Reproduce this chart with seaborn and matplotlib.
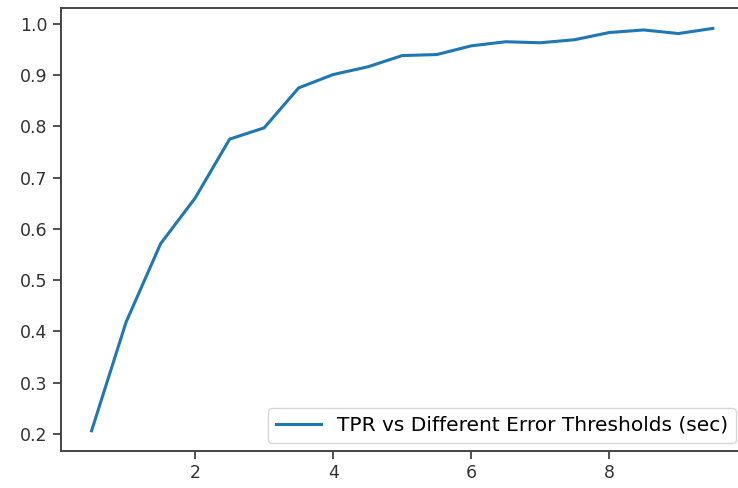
import matplotlib
matplotlib.use("Agg")
import matplotlib.pyplot as plt
import seaborn as sns
import pandas as pd

thresholds = [0.5, 1.0, 1.5, 2.0, 2.5, 3.0, 3.5, 4.0, 4.5, 5.0, 5.5, 6.0, 6.5, 7.0, 7.5, 8.0, 8.5, 9.0, 9.5]
tpr = [0.206, 0.418, 0.571, 0.660, 0.775, 0.797, 0.875, 0.901, 0.916, 0.938, 0.940, 0.957, 0.965, 0.963, 0.969, 0.983, 0.988, 0.981, 0.991]
label = "TPR vs Different Error Thresholds (sec)"

df = pd.DataFrame({"x": thresholds, "y": tpr})

fig = plt.figure(figsize=(7.38, 4.88), dpi=100)
ax = fig.add_axes([0.082, 0.076, 0.926, 0.907])
sns.lineplot(data=df, x="x", y="y", ax=ax, color="#1f77b4", linewidth=2.2, label=label)
ax.set_xlabel("")
ax.set_ylabel("")
ax.set_xticks([2, 4, 6, 8])
ax.set_yticks([0.2, 0.3, 0.4, 0.5, 0.6, 0.7, 0.8, 0.9, 1.0])
ax.tick_params(labelsize=12.5, length=6, width=1.2, colors="#333333")
for s in ax.spines.values():
    s.set_linewidth(1.4)
    s.set_color("#444444")
ax.legend(loc="lower right", fontsize=14.5, frameon=True, handlelength=2.2,
          borderaxespad=0.4)
fig.savefig("out.png", dpi=100)
